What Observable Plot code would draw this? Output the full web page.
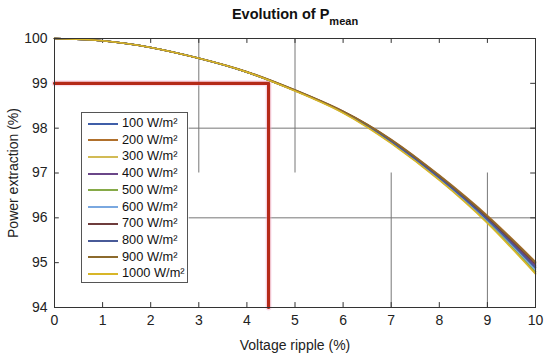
<!DOCTYPE html>
<html><head><meta charset="utf-8">
<script src="https://cdn.jsdelivr.net/npm/d3@7"></script>
<script src="https://cdn.jsdelivr.net/npm/@observablehq/plot@0.6"></script>
<style>
body{margin:0;background:#fff;}
#wrap{position:relative;width:550px;height:357px;font-family:"Liberation Sans",Arial,sans-serif;}
#title{position:absolute;left:0;width:590px;top:6px;text-align:center;font-weight:bold;font-size:14.5px;color:#111;}
#title sub{font-size:11px;vertical-align:-6px;}
#legend{position:absolute;left:81px;top:112px;width:107px;height:171px;border:1px solid #555;background:#fff;box-sizing:border-box;}
.row{position:absolute;left:6px;height:16px;font-size:12.8px;color:#111;line-height:16px;white-space:nowrap;}
.row span.l{display:inline-block;width:30px;height:0;border-top:2px solid;vertical-align:middle;margin-right:4px;}
</style></head>
<body><div id="wrap"><div id="title">Evolution of P<sub>mean</sub></div></div>
<script>
const ripple = [0,1,2,3,4,5,6,7,8,9,10];
const labels = ["100 W/m²","200 W/m²","300 W/m²","400 W/m²","500 W/m²","600 W/m²","700 W/m²","800 W/m²","900 W/m²","1000 W/m²"];
const colors = ["#3f5ea8","#b0702c","#d2bb55","#6a4688","#86aa48","#7aa8e0","#6e3c3c","#485a98","#8c6a2c","#d8b628"];
const p100  = [100,99.95,99.8,99.56,99.25,98.84,98.36,97.71,96.90,95.98,94.90];
const p200  = [100,99.95,99.8,99.56,99.26,98.85,98.38,97.75,96.95,96.05,95.02];
const p300  = [100,99.95,99.8,99.56,99.25,98.84,98.35,97.67,96.85,95.90,94.77];
const p400  = [100,99.95,99.8,99.56,99.25,98.84,98.36,97.72,96.91,95.99,94.93];
const p500  = [100,99.95,99.8,99.56,99.25,98.84,98.35,97.68,96.86,95.92,94.80];
const p600  = [100,99.95,99.8,99.56,99.25,98.84,98.35,97.69,96.87,95.94,94.84];
const p700  = [100,99.95,99.8,99.56,99.25,98.84,98.37,97.73,96.92,96.01,94.97];
const p800  = [100,99.95,99.8,99.56,99.25,98.84,98.36,97.70,96.89,95.96,94.88];
const p900  = [100,99.95,99.8,99.56,99.26,98.85,98.37,97.74,96.94,96.03,95.00];
const p1000 = [100,99.95,99.8,99.56,99.25,98.83,98.34,97.66,96.84,95.88,94.75];
const series = [p100,p200,p300,p400,p500,p600,p700,p800,p900,p1000];
const xTicks = [0,1,2,3,4,5,6,7,8,9,10];
const yTicks = [94,95,96,97,98,99,100];
const markerPath = [{x:0,y:99},{x:4.45,y:99},{x:4.45,y:94}];
const gridV = [{x:3,y1:97,y2:100},{x:5,y1:97,y2:100},{x:7,y1:94,y2:97},{x:9,y1:94,y2:97}];
const gridH = [{y:98,x1:2.8,x2:10},{y:96,x1:2.8,x2:10}];

const rows = [];
series.forEach((s,i)=>s.forEach((v,j)=>rows.push({x:ripple[j],y:v,k:labels[i]})));

const chart = Plot.plot({
  width:550,height:357,
  marginLeft:54,marginRight:15,marginTop:38,marginBottom:50,
  style:{fontFamily:"'Liberation Sans',Arial,sans-serif",fontSize:"14px",color:"#222",background:"#fff"},
  x:{domain:[0,10]},
  y:{domain:[94,100]},
  color:{domain:labels,range:colors},
  marks:[
    Plot.ruleX(gridV,{x:"x",y1:"y1",y2:"y2",stroke:"#777",strokeWidth:1}),
    Plot.ruleY(gridH,{y:"y",x1:"x1",x2:"x2",stroke:"#777",strokeWidth:1}),
    Plot.ruleX(xTicks,{x:d=>d,y1:94,y2:94.11,stroke:"#333"}),
    Plot.ruleX(xTicks,{x:d=>d,y1:99.89,y2:100,stroke:"#333"}),
    Plot.ruleY(yTicks,{y:d=>d,x1:0,x2:0.1,stroke:"#333"}),
    Plot.ruleY(yTicks,{y:d=>d,x1:9.9,x2:10,stroke:"#333"}),
    Plot.line(markerPath,{x:"x",y:"y",stroke:"#f7b8d8",strokeWidth:6,strokeOpacity:0.45}),
    Plot.line(markerPath,{x:"x",y:"y",stroke:"#b52a18",strokeWidth:3.2}),
    Plot.line(rows,{x:"x",y:"y",z:"k",stroke:"k",strokeWidth:1.6,curve:"natural"}),
    Plot.frame({stroke:"#333",strokeWidth:1}),
    Plot.axisX({ticks:xTicks,tickFormat:"d",tickSize:0,tickPadding:8,label:"Voltage ripple (%)",labelAnchor:"center",labelArrow:"none",labelOffset:42,fill:"#222"}),
    Plot.axisY({ticks:yTicks,tickFormat:"d",tickSize:0,tickPadding:7,label:"Power extraction (%)",labelAnchor:"center",labelArrow:"none",labelOffset:46,fill:"#222"})
  ]
});
const wrap = document.getElementById("wrap");
wrap.insertBefore(chart, wrap.firstChild);
const leg = document.createElement("div"); leg.id="legend";
labels.forEach((l,i)=>{
  const r=document.createElement("div"); r.className="row"; r.style.top=(2+i*16.7)+"px";
  r.innerHTML=`<span class="l" style="border-color:${colors[i]}"></span>${l}`;
  leg.appendChild(r);
});
wrap.appendChild(leg);
</script></body></html>
